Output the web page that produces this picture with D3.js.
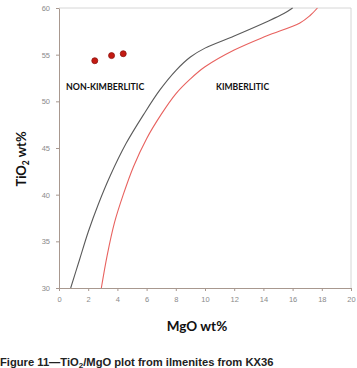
<!DOCTYPE html>
<html>
<head>
<meta charset="utf-8">
<script src="https://cdn.jsdelivr.net/npm/d3@7"></script>
<style>
  body { margin: 0; background: #fff; }
  svg { display: block; }
</style>
</head>
<body>
<svg id="viz" width="357" height="368"></svg>
<script>
// boundary curves (MgO wt%, TiO2 wt%)
const blackMgO = [0.8, 1.4, 2.0, 2.7, 3.5, 4.6, 5.8, 6.9, 8.0, 9.0, 10.0, 12.0, 14.2, 15.4, 16.0];
const blackTiO2 = [30, 33, 36, 39, 42, 45.5, 48.6, 51.2, 53.3, 54.75, 55.7, 57.0, 58.5, 59.4, 60];
const redMgO = [2.9, 3.3, 3.8, 4.4, 5.1, 6.0, 7.0, 8.0, 9.0, 10.0, 12.0, 14.2, 16.5, 17.2, 17.7];
const redTiO2 = [30, 33.5, 37, 40, 43, 46.0, 48.6, 50.8, 52.4, 53.7, 55.5, 57.0, 58.4, 59.2, 60];

// ilmenite samples
const sampleMgO = [2.45, 3.6, 4.4];
const sampleTiO2 = [54.35, 54.9, 55.1];

const xTicks = [0, 2, 4, 6, 8, 10, 12, 14, 16, 18, 20];
const yTicks = [30, 35, 40, 45, 50, 55, 60];

const margin = { top: 8, right: 6, bottom: 80, left: 59 };

const svg = d3.select("#viz");
const width = +svg.attr("width");
const height = +svg.attr("height");

const x = d3.scaleLinear().domain([0, 20]).range([margin.left, width - margin.right]);
const y = d3.scaleLinear().domain([30, 60]).range([height - margin.bottom, margin.top]);

const axisColor = "#a8988f";

// light frame on top / right
svg.append("path")
    .attr("d", `M${x(0)},${y(60)}H${x(20)}V${y(30)}`)
    .attr("fill", "none")
    .attr("stroke", "#d6d6d6")
    .attr("stroke-width", 1);

const xAxis = svg.append("g")
    .attr("transform", `translate(0,${y(30)})`)
    .call(d3.axisBottom(x).tickValues(xTicks).tickSize(3).tickSizeOuter(0));

const yAxis = svg.append("g")
    .attr("transform", `translate(${x(0)},0)`)
    .call(d3.axisLeft(y).tickValues(yTicks).tickSize(3).tickSizeOuter(0));

[xAxis, yAxis].forEach(g => {
    g.select(".domain").attr("stroke", axisColor);
    g.selectAll(".tick line").attr("stroke", axisColor);
    g.selectAll(".tick text")
        .attr("fill", "#8a8a8a")
        .attr("font-family", "Liberation Sans, Arial, sans-serif")
        .attr("font-size", 7.5);
});
xAxis.selectAll(".tick text").attr("dy", "1.1em");
yAxis.selectAll(".tick text").attr("dx", "-3");

const line = d3.line()
    .x(d => x(d[0]))
    .y(d => y(d[1]))
    .curve(d3.curveCatmullRom.alpha(0.5));

svg.append("path")
    .datum(blackMgO.map((m, i) => [m, blackTiO2[i]]))
    .attr("d", line)
    .attr("fill", "none")
    .attr("stroke", "#5a5a5a")
    .attr("stroke-width", 1.1);

svg.append("path")
    .datum(redMgO.map((m, i) => [m, redTiO2[i]]))
    .attr("d", line)
    .attr("fill", "none")
    .attr("stroke", "#e8625f")
    .attr("stroke-width", 1.1);

svg.selectAll("circle.sample")
    .data(sampleMgO.map((m, i) => [m, sampleTiO2[i]]))
    .join("circle")
    .attr("class", "sample")
    .attr("cx", d => x(d[0]))
    .attr("cy", d => y(d[1]))
    .attr("r", 3)
    .attr("fill", "#c41a12")
    .attr("stroke", "#8e1410")
    .attr("stroke-width", 0.8);

// region labels
const labelFont = "Lato, 'Open Sans', sans-serif";
svg.append("text")
    .attr("x", 66)
    .attr("y", 90)
    .attr("font-family", labelFont)
    .attr("font-weight", "bold")
    .attr("font-size", 8.8)
    .attr("fill", "#111")
    .text("NON-KIMBERLITIC");

svg.append("text")
    .attr("x", 216)
    .attr("y", 90)
    .attr("font-family", labelFont)
    .attr("font-weight", "bold")
    .attr("font-size", 8.6)
    .attr("fill", "#111")
    .text("KIMBERLITIC");

// axis titles
const yTitle = svg.append("text")
    .attr("transform", `translate(26,159) rotate(-90)`)
    .attr("text-anchor", "middle")
    .attr("font-family", labelFont)
    .attr("font-weight", "bold")
    .attr("font-size", 13)
    .attr("fill", "#111");
yTitle.append("tspan").text("TiO");
yTitle.append("tspan").attr("font-size", 8.5).attr("dy", 3).text("2");
yTitle.append("tspan").attr("dy", -3).text(" wt%");

svg.append("text")
    .attr("x", 197)
    .attr("y", 331)
    .attr("text-anchor", "middle")
    .attr("font-family", labelFont)
    .attr("font-weight", "bold")
    .attr("font-size", 13.5)
    .attr("fill", "#111")
    .text("MgO wt%");

// caption
const caption = svg.append("text")
    .attr("x", 0)
    .attr("y", 366)
    .attr("font-family", "Liberation Sans, Arial, sans-serif")
    .attr("font-weight", "bold")
    .attr("font-size", 11.2)
    .attr("fill", "#222");
caption.append("tspan").text("Figure 11\u2014TiO");
caption.append("tspan").attr("font-size", 8).attr("dy", 1.5).text("2");
caption.append("tspan").attr("dy", -1.5).text("/MgO plot from ilmenites from KX36");
</script>
</body>
</html>
